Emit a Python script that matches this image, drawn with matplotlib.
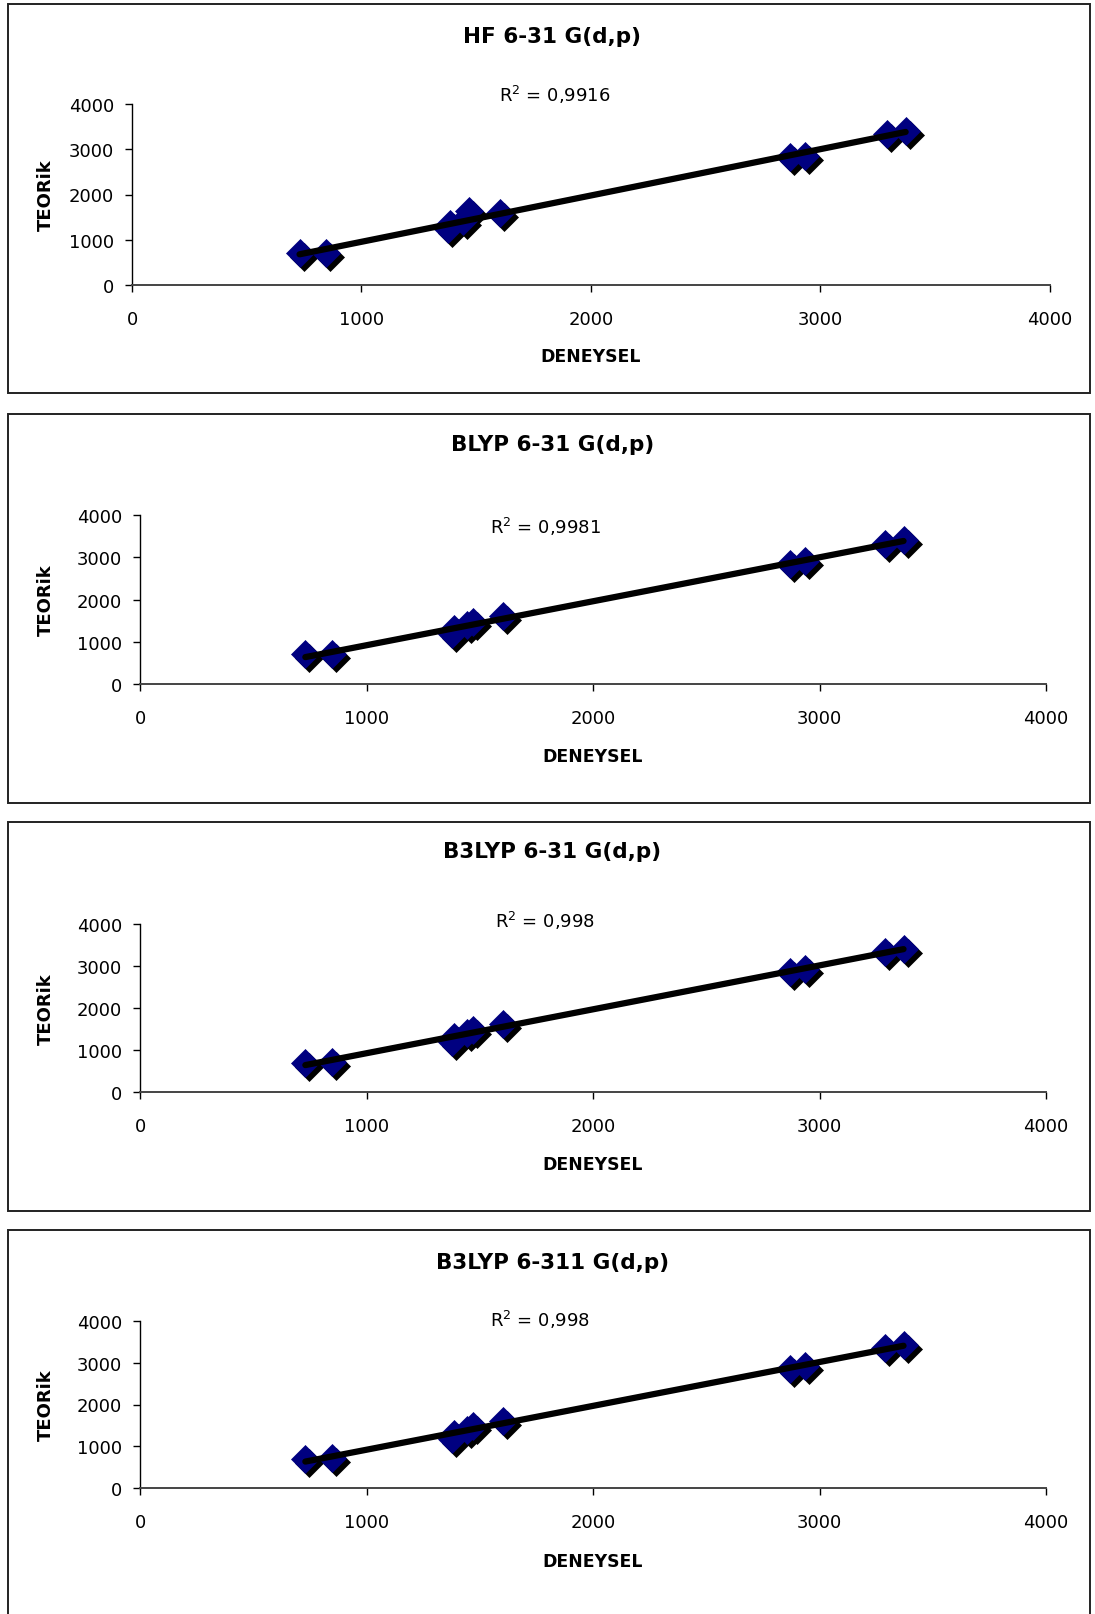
import numpy as np
import matplotlib
matplotlib.use("Agg")
import matplotlib.pyplot as plt
from matplotlib.patches import Rectangle
from matplotlib.transforms import ScaledTranslation

# deneysel (experimental) frequencies, same for all four charts
deneysel = [730, 846, 1376, 1387, 1443, 1468, 1604, 2868, 2934, 3290, 3371]

# teorik (calculated) values per method
hf_631 = [700, 705, 1230, 1350, 1420, 1640, 1590, 2830, 2860, 3340, 3400]
blyp_631 = [700, 720, 1180, 1300, 1400, 1460, 1600, 2850, 2900, 3320, 3400]
b3lyp_631 = [700, 720, 1190, 1310, 1400, 1480, 1610, 2860, 2920, 3340, 3410]
b3lyp_6311 = [700, 720, 1180, 1300, 1390, 1480, 1600, 2860, 2920, 3350, 3420]

titles = ["HF 6-31 G(d,p)", "BLYP 6-31 G(d,p)", "B3LYP 6-31 G(d,p)", "B3LYP 6-311 G(d,p)"]
r2_labels = ["0,9916", "0,9981", "0,998", "0,998"]
ticks = [0, 1000, 2000, 3000, 4000]

series = [hf_631, blyp_631, b3lyp_631, b3lyp_6311]

W, H = 1095, 1615
fig = plt.figure(figsize=(W / 100, H / 100), dpi=100)
fig.patch.set_facecolor("white")

# pixel layout of each panel
panel_top = [5, 415, 823, 1231]
axes_px = [(132, 105, 1050, 286), (140, 516, 1046, 685),
           (140, 925, 1046, 1093), (140, 1322, 1046, 1489)]
title_y = [37, 445, 852, 1263]
r2_pos = [(499, 95), (490, 527), (495, 921), (490, 1320)]
xlab_y = [357, 757, 1165, 1562]


def fx(px):
    return px / W


def fy(py):
    return 1 - py / H


for i in range(4):
    top = panel_top[i]
    fig.patches.append(Rectangle((fx(8), fy(top + 389)), fx(1090) - fx(8), fy(top) - fy(top + 389),
                                 transform=fig.transFigure, fill=False,
                                 edgecolor="#222222", linewidth=1.4, zorder=0))

    l, t, r, b = axes_px[i]
    ax = fig.add_axes([fx(l), fy(b), fx(r) - fx(l), fy(t) - fy(b)])
    ax.set_xlim(0, 4000)
    ax.set_ylim(0, 4000)
    ax.set_xticks(ticks)
    ax.set_yticks(ticks)
    ax.spines["top"].set_visible(False)
    ax.spines["right"].set_visible(False)
    ax.spines["left"].set_color("black")
    ax.spines["bottom"].set_color("#444444")
    ax.spines["left"].set_linewidth(1.0)
    ax.spines["bottom"].set_linewidth(1.4)
    ax.tick_params(axis="both", direction="out", length=5, width=1, color="black",
                   labelsize=13)
    ax.tick_params(axis="x", pad=13)
    ax.tick_params(axis="y", pad=8)
    ax.patch.set_alpha(0)

    y = series[i]
    shadow = ax.transData + ScaledTranslation(0.04, -0.04, fig.dpi_scale_trans)
    ax.plot(deneysel, y, linestyle="none", marker="D", markersize=14.5,
            markerfacecolor="black", markeredgecolor="black", markeredgewidth=0.5,
            transform=shadow, clip_on=False, zorder=2)
    ax.plot(deneysel, y, linestyle="none", marker="D", markersize=14.5,
            markerfacecolor="#000080", markeredgecolor="#000080", markeredgewidth=0.5,
            clip_on=False, zorder=3)

    # linear trendline over the data range
    k, c = np.polyfit(deneysel, y, 1)
    xs = np.array([min(deneysel), max(deneysel)])
    ax.plot(xs, k * xs + c, color="black", linewidth=4.5, solid_capstyle="round", zorder=4)

    fig.text(0.5 * (fx(8) + fx(1090)) + 0.003, fy(title_y[i]), titles[i], ha="center", va="center",
             fontsize=15.5, fontweight="bold", family="DejaVu Sans")
    fig.text(fx(r2_pos[i][0]), fy(r2_pos[i][1]), "R$^2$ = " + r2_labels[i], ha="left", va="center",
             fontsize=13)
    fig.text(fx((l + r) / 2), fy(xlab_y[i]), "DENEYSEL", ha="center",
             va="center", fontsize=12.4, fontweight="bold")
    fig.text(fx(46), fy((t + b) / 2), "TEORik", rotation=90, ha="center", va="center",
             fontsize=13, fontweight="bold")

fig.savefig("out.png", dpi=100, facecolor="white")
